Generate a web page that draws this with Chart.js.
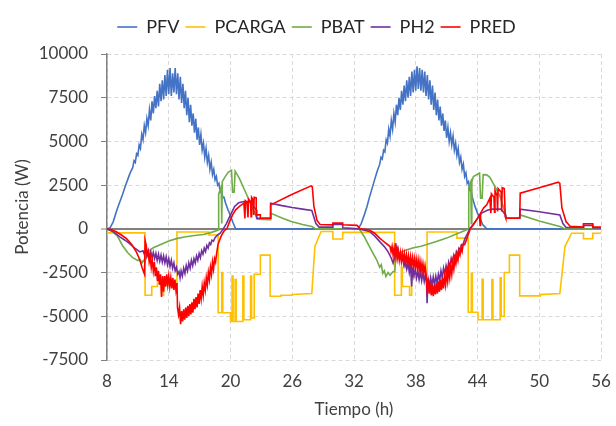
<!DOCTYPE html>
<html>
<head>
<meta charset="utf-8">
<script src="https://cdn.jsdelivr.net/npm/chart.js@4.4.1/dist/chart.umd.min.js"></script>
<style>
  html, body { margin: 0; padding: 0; background: #fff; }
  #wrap { width: 616px; height: 426px; }
</style>
</head>
<body>
<div id="wrap"><canvas id="chart" width="616" height="426"></canvas></div>
<script>
// hours on the x axis, watts on the y axis: [t, W]
const xTicks = [8, 14, 20, 26, 32, 38, 44, 50, 56];
const yTicks = [-7500, -5000, -2500, 0, 2500, 5000, 7500, 10000];

const pfv = [
  [8, 0], [8.3, 60], [8.6, 400], [9, 1150], [9.25, 1550], [9.5, 1950], [9.75, 2400], [10, 2800],
  [10.25, 3200], [10.5, 3500], [10.625, 3900], [10.75, 3800], [10.875, 4300], [11, 4200], [11.125, 4800],
  [11.25, 4600], [11.375, 5400], [11.5, 5100], [11.625, 5900], [11.75, 5500], [11.875, 6300], [12, 5900],
  [12.125, 6800], [12.25, 6200], [12.375, 7300], [12.5, 6600], [12.625, 7600], [12.75, 6900], [12.875, 7900],
  [13, 7000], [13.125, 8300], [13.25, 7300], [13.375, 8500], [13.5, 7400], [13.625, 8800], [13.75, 7600],
  [13.875, 9100], [14, 7700], [14.125, 9200], [14.25, 7600], [14.375, 8900], [14.5, 7800], [14.625, 9200],
  [14.75, 7700], [14.875, 8900], [15, 7400], [15.125, 8700], [15.25, 7200], [15.375, 8300], [15.5, 6900],
  [15.625, 7900], [15.75, 6500], [15.875, 7500], [16, 6100], [16.125, 7100], [16.25, 5900], [16.375, 6600],
  [16.5, 5500], [16.625, 6300], [16.75, 5100], [16.875, 5800], [17, 4800], [17.125, 5400], [17.25, 4500],
  [17.375, 4900], [17.5, 4100], [17.625, 4600], [17.75, 3800], [17.875, 4200], [18, 3400], [18.125, 3800],
  [18.25, 3100], [18.375, 3400], [18.5, 2800], [18.625, 3000], [18.75, 2500], [18.875, 2600], [19, 2100],
  [19.125, 2200], [19.25, 1800], [19.375, 1800], [19.5, 1500], [19.75, 1100], [20, 750], [20.25, 350],
  [20.5, 0], [32.4, 0], [32.7, 300], [33, 800], [33.25, 1250], [33.5, 1800], [33.75, 2300], [34, 2800],
  [34.25, 3300], [34.5, 3700], [34.625, 4100], [34.75, 4000], [34.875, 4500], [35, 4400], [35.125, 5100],
  [35.25, 4900], [35.375, 5700], [35.5, 5300], [35.625, 6200], [35.75, 5700], [35.875, 6600], [36, 6100],
  [36.125, 7100], [36.25, 6500], [36.375, 7500], [36.5, 6800], [36.625, 7900], [36.75, 7100], [36.875, 8200],
  [37, 7300], [37.125, 8500], [37.25, 7500], [37.375, 8700], [37.5, 7600], [37.625, 9000], [37.75, 7800],
  [37.875, 9100], [38, 7900], [38.125, 9300], [38.25, 8000], [38.375, 9200], [38.5, 7900], [38.625, 9100],
  [38.75, 7800], [38.875, 9000], [39, 7600], [39.125, 8800], [39.25, 7400], [39.375, 8500], [39.5, 7100],
  [39.625, 8200], [39.75, 6800], [39.875, 7800], [40, 6500], [40.125, 7400], [40.25, 6200], [40.375, 7000],
  [40.5, 5900], [40.625, 6600], [40.75, 5600], [40.875, 6200], [41, 5200], [41.125, 5800], [41.25, 5000],
  [41.375, 5500], [41.5, 4800], [41.625, 5300], [41.75, 4500], [41.875, 4900], [42, 4200], [42.125, 4600],
  [42.25, 3800], [42.375, 4100], [42.5, 3400], [42.625, 3700], [42.75, 3000], [42.875, 3200], [43, 2600],
  [43.125, 2700], [43.25, 2200], [43.375, 2200], [43.5, 1800], [43.75, 1300], [44, 900], [44.25, 600],
  [44.5, 250], [44.9, 0], [56, 0]
];

const pcarga = [
  [8, -230], [11.7, -230], [11.7, -3800], [12.35, -3800], [12.35, -3300], [12.9, -3300], [12.9, -3100],
  [13.3, -3100], [13.3, -3800], [13.5, -3800], [13.5, -3200], [14.8, -3200], [14.8, -180], [17.9, -180],
  [17.9, -350], [18.8, -350], [18.8, -4800], [19.15, -4800], [19.15, -2500], [19.25, -2500], [19.25, -4800],
  [20, -4800], [20, -5300], [20.15, -5300], [20.15, -2700], [20.25, -2700], [20.25, -5300], [20.45, -5300],
  [20.45, -2900], [20.55, -2900], [20.55, -5300], [21.2, -5300], [21.2, -2700], [21.3, -2700], [21.3, -5200],
  [21.95, -5200], [21.95, -2700], [22.05, -2700], [22.05, -5100], [22.3, -5100], [22.3, -2600], [22.9, -2600],
  [22.9, -1500], [23.85, -1500], [23.85, -3850], [24.9, -3850], [24.9, -3800], [26, -3800], [26, -3750],
  [27.9, -3700], [28.2, -1000], [28.8, -150], [29.95, -150], [29.95, -580], [30.9, -580], [30.9, -200],
  [35.95, -200], [35.95, -3800], [36.6, -3800], [36.6, -2200], [36.7, -2200], [36.7, -3300], [37.4, -3300],
  [37.4, -3800], [37.6, -3800], [37.6, -2750], [39.1, -2750], [39.1, -180], [42, -180], [42, -530],
  [43.1, -530], [43.1, -4770], [43.4, -4770], [43.4, -2540], [43.5, -2540], [43.5, -4770], [44.05, -4770],
  [44.05, -5200], [44.45, -5200], [44.45, -2880], [44.55, -2880], [44.55, -5200], [45.4, -5200],
  [45.4, -2900], [45.5, -2900], [45.5, -5200], [46.2, -5200], [46.2, -2800], [46.3, -2800], [46.3, -5000],
  [46.6, -5000], [46.6, -2500], [47.1, -2500], [47.1, -1500], [48.1, -1500], [48.1, -3830], [50.1, -3830],
  [50.1, -3760], [52, -3700], [52.5, -1000], [53.15, -250], [54.3, -250], [54.3, -570], [55.2, -570],
  [55.2, -250], [56, -250]
];

const pbat = [
  [8, 0], [8.5, -150], [9, -400], [9.5, -950], [10, -1350], [10.5, -1650], [11, -1820], [11.2, -1750],
  [11.4, -1950], [11.55, -1800], [11.7, -1900], [11.85, -1500], [12.1, -1250], [12.5, -1080], [13, -950],
  [13.5, -820], [14, -700], [14.75, -560], [15.5, -470], [16.5, -380], [17.35, -320], [18, -230],
  [18.5, -130], [18.8, -60], [18.85, 2000], [19.1, 2400], [19.15, 300], [19.2, 2700], [19.5, 3000],
  [19.8, 3250], [20.1, 3350], [20.2, 2100], [20.35, 2100], [20.45, 3300], [20.85, 2900], [21.5, 2050],
  [22, 1400], [22.5, 700], [22.6, 550], [23.85, 520], [23.9, 900], [25, 620], [25.9, 420], [27, 250],
  [27.9, 130], [28.3, 0], [32.5, 0], [33, -450], [33.5, -1010], [34.2, -1770], [34.5, -2200],
  [34.65, -2050], [34.8, -2540], [34.95, -2400], [35.1, -2730], [35.3, -2500], [35.5, -2650],
  [35.8, -2440], [35.95, -2450], [36.1, -1500], [36.5, -1350], [37, -1220], [37.7, -1100], [38.5, -1000],
  [39, -915], [40, -720], [41, -530], [42, -280], [42.9, -60], [43.1, -20], [43.15, 2400], [43.35, 2700],
  [43.4, 300], [43.45, 2700], [43.6, 2990], [44.2, 3190], [44.3, 1750], [44.45, 1750], [44.55, 3100],
  [44.9, 3090], [45.2, 2950], [45.7, 2420], [46.2, 1850], [46.7, 900], [46.8, 610], [48.1, 610],
  [48.15, 800], [50, 450], [52, 130], [52.5, 0], [56, 0]
];

const ph2 = [
  [8, 0], [8.5, -120], [9, -350], [9.25, -460], [9.75, -650], [10.2, -840], [10.7, -1100], [11.2, -1320],
  [11.5, -1250], [11.625, -1450], [11.75, -1200], [11.875, -1550], [12, -1250], [12.125, -1600],
  [12.25, -1300], [12.375, -1650], [12.5, -1350], [12.625, -1700], [12.75, -1400], [12.875, -1800],
  [13, -1450], [13.125, -1850], [13.25, -1500], [13.375, -1900], [13.5, -1550], [13.625, -1950],
  [13.75, -1600], [13.875, -2050], [14, -1700], [14.125, -2150], [14.25, -1800], [14.375, -2250],
  [14.5, -1950], [14.625, -2400], [14.75, -2200], [14.875, -2600], [15, -2450], [15.1, -2800], [15.2, -2400],
  [15.325, -2700], [15.45, -2250], [15.575, -2550], [15.7, -2100], [15.825, -2400], [15.95, -1950],
  [16.075, -2250], [16.2, -1800], [16.325, -2100], [16.45, -1700], [16.575, -1950], [16.7, -1550],
  [16.825, -1800], [16.95, -1400], [17.075, -1650], [17.2, -1250], [17.325, -1450], [17.45, -1100],
  [17.575, -1300], [17.7, -950], [17.825, -1100], [17.95, -800], [18.075, -900], [18.2, -650], [18.35, -700],
  [18.5, -500], [18.75, -350], [19, -250], [19.3, 0], [19.6, 300], [20, 800], [20.4, 1280], [20.8, 1500],
  [21.3, 1560], [21.9, 1560], [22.5, 1090], [22.55, 610], [23.84, 610], [23.9, 1470], [25, 1330],
  [26, 1220], [27, 1130], [27.9, 1050], [28.3, 300], [28.6, 100], [29.95, 100], [29.95, 250], [30.9, 250],
  [30.9, 60], [32.5, 0], [33.5, -150], [34, -400], [34.5, -730], [35, -1050], [35.3, -1300], [35.6, -1650],
  [35.8, -1960], [36, -1500], [36.05, -820], [36.15, -1300], [36.25, -1100], [36.375, -1600], [36.5, -1400],
  [36.625, -1850], [36.75, -1600], [36.875, -2100], [37, -1800], [37.125, -2300], [37.25, -1950],
  [37.375, -2500], [37.5, -2100], [37.6, -3300], [37.7, -2200], [37.825, -2700], [37.95, -2300],
  [38.075, -2800], [38.2, -2400], [38.325, -2900], [38.45, -2450], [38.575, -2950], [38.7, -2500],
  [38.825, -3000], [38.95, -2600], [39.05, -3100], [39.1, -4250], [39.2, -2800], [39.325, -3300],
  [39.45, -2800], [39.575, -3250], [39.7, -2750], [39.825, -3200], [39.95, -2700], [40.075, -3100],
  [40.2, -2600], [40.325, -2950], [40.45, -2400], [40.575, -2800], [40.7, -2250], [40.825, -2600],
  [40.95, -2100], [41.075, -2400], [41.2, -1900], [41.325, -2200], [41.45, -1700], [41.575, -1950],
  [41.7, -1500], [41.825, -1700], [41.95, -1300], [42.075, -1450], [42.2, -1100], [42.325, -1200],
  [42.45, -900], [42.6, -900], [42.75, -600], [43, -300], [43.3, 50], [43.6, 250], [44, 600], [44.4, 900],
  [45, 1080], [45.5, 1130], [46.3, 1130], [46.7, 800], [46.75, 610], [48.1, 610], [48.15, 1130], [50, 980],
  [52, 800], [52.3, 300], [52.6, 80], [54.3, 80], [54.3, 200], [55.2, 200], [55.2, 60], [56, 50]
];

const pred = [
  [8, 0], [8.5, -60], [8.9, -170], [9.4, -350], [9.9, -560], [10.4, -900], [10.85, -1320], [11.1, -1650],
  [11.25, -1900], [11.4, -2200], [11.55, -2450], [11.65, -2600], [11.7, -650], [11.8, -900], [11.9, -1500],
  [12, -1300], [12.1, -1900], [12.2, -1600], [12.3, -2200], [12.4, -1800], [12.5, -2400], [12.6, -1900],
  [12.7, -2700], [12.8, -2200], [12.9, -3000], [13, -2400], [13.1, -3200], [13.2, -2600], [13.3, -3900],
  [13.4, -2700], [13.5, -3600], [13.6, -2700], [13.7, -3300], [13.8, -2600], [13.9, -3200], [14, -2700],
  [14.1, -3300], [14.2, -2800], [14.3, -3400], [14.4, -2800], [14.5, -3500], [14.6, -2900], [14.7, -3500],
  [14.8, -3100], [14.85, -4500], [14.95, -4900], [15.05, -4500], [15.15, -5450], [15.25, -4700],
  [15.35, -5300], [15.45, -4600], [15.55, -5200], [15.65, -4500], [15.75, -5100], [15.85, -4400],
  [15.95, -5000], [16.05, -4300], [16.15, -4900], [16.25, -4200], [16.35, -4800], [16.45, -4000],
  [16.55, -4600], [16.65, -3900], [16.75, -4500], [16.85, -3700], [16.95, -4300], [17.05, -3500],
  [17.15, -4000], [17.25, -3300], [17.35, -3800], [17.45, -3100], [17.55, -3500], [17.65, -2800],
  [17.75, -3200], [17.85, -2500], [17.95, -2900], [18.05, -2200], [18.15, -2600], [18.25, -1900],
  [18.35, -2300], [18.45, -1700], [18.55, -1900], [18.65, -1400], [18.8, -860], [19.1, -400], [19.4, -100],
  [19.65, 0], [19.9, 400], [20.2, 800], [20.5, 1090], [20.9, 1300], [21.3, 1470], [21.4, 600], [21.45, 1600],
  [21.6, 1500], [21.7, 650], [21.75, 1700], [21.95, 1550], [22, 700], [22.05, 1800], [22.2, 1650],
  [22.25, 800], [22.3, 1800], [22.5, 1770], [22.5, 800], [22.9, 800], [22.9, 610], [23.84, 610],
  [23.9, 1370], [25.9, 1945], [27.83, 2460], [27.95, 2400], [28.1, 1300], [28.4, 500], [28.7, 250],
  [29.95, 230], [29.95, 330], [30.9, 330], [30.9, 230], [32.3, 200], [32.6, 0], [33.5, -60], [34, -250],
  [34.5, -530], [35, -780], [35.5, -1010], [35.6, -1300], [35.7, -1000], [35.8, -1500], [35.9, -1100],
  [36, -1600], [36.1, -1200], [36.2, -1700], [36.3, -1300], [36.4, -1800], [36.5, -1350], [36.6, -1850],
  [36.7, -1400], [36.8, -1900], [36.9, -1450], [37, -1950], [37.1, -1500], [37.2, -2000], [37.3, -1550],
  [37.4, -2100], [37.5, -1600], [37.6, -2150], [37.7, -1650], [37.8, -2200], [37.9, -1700], [38, -2250],
  [38.1, -1750], [38.2, -2300], [38.3, -1800], [38.4, -2400], [38.5, -1900], [38.6, -2450], [38.7, -2000],
  [38.8, -2500], [38.9, -2100], [39, -2600], [39.1, -3400], [39.2, -3000], [39.3, -3700], [39.4, -3100],
  [39.5, -3800], [39.6, -3200], [39.7, -3850], [39.8, -3200], [39.9, -3750], [40, -3100], [40.1, -3700],
  [40.2, -3000], [40.3, -3600], [40.4, -2900], [40.5, -3500], [40.6, -2800], [40.7, -3400], [40.8, -2700],
  [40.9, -3200], [41, -2500], [41.1, -3000], [41.2, -2300], [41.3, -2800], [41.4, -2100], [41.5, -2600],
  [41.6, -1900], [41.7, -2300], [41.8, -1700], [41.9, -2000], [42, -1500], [42.1, -1800], [42.2, -1300],
  [42.3, -1500], [42.4, -1100], [42.5, -1300], [42.6, -900], [42.75, -900], [43, -500], [43.3, 0],
  [43.6, 250], [44, 600], [44.2, 800], [44.25, 200], [44.3, 900], [44.6, 1200], [44.9, 1370], [45.2, 1750],
  [45.3, 900], [45.35, 2000], [45.6, 1800], [45.65, 950], [45.7, 2200], [45.9, 1900], [45.95, 1000],
  [46, 2300], [46.3, 2100], [46.35, 1000], [46.4, 2350], [46.6, 2300], [46.7, 700], [46.75, 610],
  [48.1, 610], [48.15, 2040], [50, 2350], [51.85, 2670], [52, 2600], [52.2, 1200], [52.6, 420], [53, 150],
  [54.3, 100], [54.3, 290], [55.2, 290], [55.2, 100], [56, 100]
];

const FONT = "Lato, 'Open Sans', sans-serif";
const TEXT = "#404040";

const toXY = (arr) => arr.map(([x, y]) => ({ x, y }));
const line = (label, arr, color) => ({
  label: label,
  data: toXY(arr),
  borderColor: color,
  backgroundColor: color,
  borderWidth: 1.6,
  pointRadius: 0,
  tension: 0,
  fill: false,
});

// first dataset is drawn on top, so the list is reversed and the legend flipped back
const datasets = [
  line("PRED", pred, "#FF0000"),
  line("PH2", ph2, "#7030A0"),
  line("PBAT", pbat, "#70AD47"),
  line("PCARGA", pcarga, "#FFC000"),
  line("PFV", pfv, "#4472C4"),
];

// nudge the legend to where the original sits
const legendShift = {
  id: "legendShift",
  afterLayout(chart) {
    const l = chart.legend;
    if (!l) return;
    l.left += 16; l.right += 16;
    l.top -= 8; l.bottom -= 8;
  },
};

const isZero = (ctx) => ctx.tick && ctx.tick.value === 0;

new Chart(document.getElementById("chart"), {
  type: "line",
  data: { datasets },
  options: {
    responsive: false,
    animation: false,
    devicePixelRatio: 1,
    layout: { padding: { left: 0, right: 15, top: 20, bottom: 6 } },
    plugins: {
      legend: {
        position: "top",
        reverse: true,
        labels: {
          usePointStyle: true,
          pointStyle: "line",
          pointStyleWidth: 20,
          padding: 6,
          color: "#262626",
          font: { family: FONT, size: 18 },
        },
      },
      tooltip: { enabled: false },
    },
    scales: {
      x: {
        type: "linear",
        min: 8,
        max: 56,
        afterBuildTicks: (s) => { s.ticks = xTicks.map((v) => ({ value: v })); },
        afterFit: (s) => { s.height = 60; s.paddingLeft = 0; s.paddingRight = 0; },
        grid: { color: "#D9D9D9", lineWidth: 1, drawTicks: false },
        border: { display: false, dash: [4, 3] },
        ticks: { padding: 11, color: TEXT, font: { family: FONT, size: 17 } },
        title: {
          display: true,
          text: "Tiempo (h)",
          color: TEXT,
          font: { family: FONT, size: 17 },
          padding: { top: 0, bottom: 0 },
        },
      },
      y: {
        min: -7500,
        max: 10000,
        afterBuildTicks: (s) => { s.ticks = yTicks.map((v) => ({ value: v })); },
        afterFit: (s) => { s.width = 107; },
        grid: {
          color: (ctx) => (isZero(ctx) ? "#808080" : "#D9D9D9"),
          lineWidth: (ctx) => (isZero(ctx) ? 2 : 1),
          tickColor: "#808080",
          tickWidth: 1,
          tickLength: 6,
        },
        border: {
          display: true,
          color: "#808080",
          width: 1.5,
          dash: (ctx) => (isZero(ctx) ? [] : [4, 3]),
        },
        ticks: {
          padding: 13,
          color: TEXT,
          font: { family: FONT, size: 17 },
          callback: (v) => String(v),
        },
        title: {
          display: true,
          text: "Potencia (W)",
          color: TEXT,
          font: { family: FONT, size: 17 },
          padding: { top: 12, bottom: 0 },
        },
      },
    },
  },
  plugins: [legendShift],
});
</script>
</body>
</html>
